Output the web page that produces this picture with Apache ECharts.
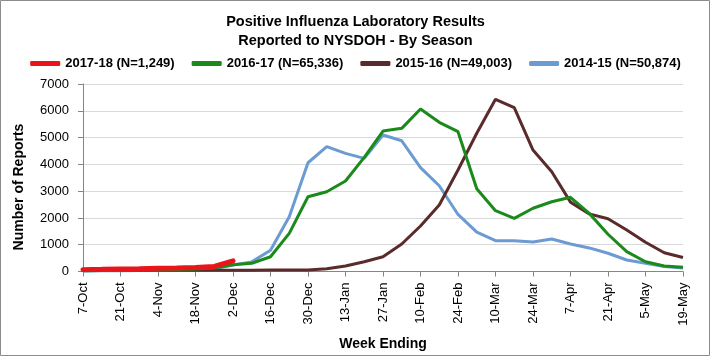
<!DOCTYPE html>
<html>
<head>
<meta charset="utf-8">
<script src="https://cdn.jsdelivr.net/npm/echarts@6/dist/echarts.min.js"></script>
<style>
html,body{margin:0;padding:0;background:#fff;}
#chart{width:711px;height:357px;}
</style>
</head>
<body>
<div id="chart"></div>
<script>
var weeks = ['7-Oct','14-Oct','21-Oct','28-Oct','4-Nov','11-Nov','18-Nov','25-Nov','2-Dec','9-Dec','16-Dec','23-Dec','30-Dec','6-Jan','13-Jan','20-Jan','27-Jan','3-Feb','10-Feb','17-Feb','24-Feb','3-Mar','10-Mar','17-Mar','24-Mar','31-Mar','7-Apr','14-Apr','21-Apr','28-Apr','5-May','12-May','19-May'];
var s2017_18 = [70,80,95,105,120,130,150,190,400];
var s2016_17 = [30,35,40,50,60,70,90,130,250,305,550,1425,2790,2980,3380,4260,5245,5345,6065,5570,5220,3090,2270,1985,2360,2605,2770,2170,1390,740,365,205,155];
var s2015_16 = [40,40,40,40,45,45,45,50,50,50,55,55,60,105,205,365,550,1025,1700,2480,3790,5160,6430,6120,4535,3725,2590,2150,1970,1550,1090,700,520];
var s2014_15 = [20,25,30,35,45,55,70,100,240,360,790,2045,4060,4660,4410,4225,5095,4880,3880,3200,2130,1470,1150,1150,1100,1215,1025,880,680,430,305,190,130];
var yTicks = [0,1000,2000,3000,4000,5000,6000,7000];
var names = ['2017-18 (N=1,249)','2016-17 (N=65,336)','2015-16 (N=49,003)','2014-15 (N=50,874)'];
var colors = ['#e8161b','#1a8a1a','#5b2a2b','#6b9bd2'];

var chart = echarts.init(document.getElementById('chart'), null, {renderer:'canvas'});
var font = '"Liberation Sans", Arial, sans-serif';
chart.setOption({
  animation:false,
  backgroundColor:'#fff',
  textStyle:{fontFamily:font},
  title:{
    text:'Positive Influenza Laboratory Results\nReported to NYSDOH - By Season',
    left:'center', top:7,
    textStyle:{fontFamily:font,fontSize:14.5,fontWeight:'bold',color:'#000',lineHeight:19}
  },
  legend:{
    top:52, left:'center', itemGap:17, itemWidth:30, itemHeight:5,
    textStyle:{fontFamily:font,fontSize:13,fontWeight:'bold',color:'#000'},
    data:names.map(function(n){return {name:n,icon:'roundRect'};})
  },
  graphic:[
    {type:'rect',shape:{x:0.5,y:0.5,width:709,height:355},style:{fill:'none',stroke:'#8c8c8c',lineWidth:1},silent:true},
    {type:'text',x:19,y:187,rotation:Math.PI/2,style:{text:'Number of Reports',fontFamily:font,fontSize:14,fontWeight:'bold',fill:'#000',align:'center',verticalAlign:'middle'},silent:true}
  ],
  grid:{left:83,right:28,top:84,bottom:85.5,containLabel:false},
  xAxis:{
    type:'category', data:weeks, boundaryGap:false,
    name:'Week Ending', nameLocation:'middle', nameGap:66,
    nameTextStyle:{fontFamily:font,fontSize:14,fontWeight:'bold',color:'#000'},
    axisLine:{lineStyle:{color:'#868686',width:1}},
    axisTick:{show:true,interval:1,length:5,lineStyle:{color:'#868686'}},
    axisLabel:{interval:1,rotate:90,fontFamily:font,fontSize:13,color:'#000',margin:11},
    splitLine:{show:false}
  },
  yAxis:{
    type:'value', min:yTicks[0], max:yTicks[yTicks.length-1], interval:1000,
    axisLine:{show:true,lineStyle:{color:'#868686'}},
    axisTick:{show:true,length:5,lineStyle:{color:'#868686'}},
    axisLabel:{fontFamily:font,fontSize:13,color:'#000',margin:14,formatter:function(v){return String(v);}},
    splitLine:{lineStyle:{color:'#d9d9d9'}}
  },
  series:[
    {name:names[3],type:'line',data:s2014_15,symbol:'none',lineStyle:{color:colors[3],width:3},itemStyle:{color:colors[3]},z:2},
    {name:names[2],type:'line',data:s2015_16,symbol:'none',lineStyle:{color:colors[2],width:3},itemStyle:{color:colors[2]},z:3},
    {name:names[1],type:'line',data:s2016_17,symbol:'none',lineStyle:{color:colors[1],width:3},itemStyle:{color:colors[1]},z:4},
    {name:names[0],type:'line',data:s2017_18,symbol:'none',lineStyle:{color:colors[0],width:5,cap:'round'},itemStyle:{color:colors[0]},z:5}
  ]
});
</script>
</body>
</html>
